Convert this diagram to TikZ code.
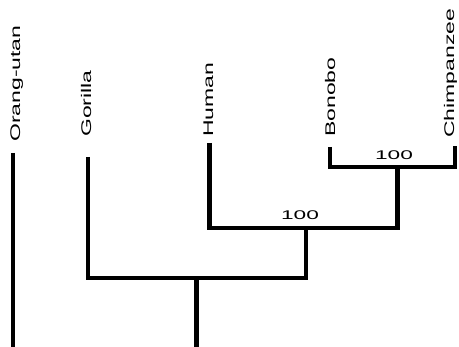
\documentclass[tikz,border=0pt]{standalone}
\usepackage{fontspec}
\setmainfont{Liberation Sans}
\tikzset{
  taxon/.style={rotate=90,anchor=base west,inner sep=0pt,font=\fontsize{14}{16}\selectfont},
  support/.style={inner sep=0pt,font=\fontsize{12.6}{14}\selectfont},
  branch/.style={line width=4.2pt}
}
\newcommand{\longname}[1]{\scalebox{1.64}[1]{#1}}
\newcommand{\wideval}[1]{\scalebox{1.8}[1]{#1}}
\begin{document}
\begin{tikzpicture}[x=1pt,y=-1pt]
\useasboundingbox (0,0) rectangle (459,347);
\clip (0,0) rectangle (459,347);
% taxa
\node[taxon] (orang) at (20,142) {\longname{Orang-utan}};
\node[taxon] (gorilla) at (91,137) {\longname{Gorilla}};
\node[taxon] (human) at (213,137) {\longname{Human}};
\node[taxon] (bonobo) at (335,137) {\longname{Bonobo}};
\node[taxon] (chimp) at (454,138) {\longname{Chimpanzee}};
\coordinate (orangtip) at (13,153);
\coordinate (gorillatip) at (88,157);
\coordinate (humantip) at (209.5,143);
\coordinate (bonobotip) at (330,147);
\coordinate (chimptip) at (455,146);
% internal nodes
\coordinate (bc) at (397.5,167);
\coordinate (hbc) at (306,228);
\coordinate (ghbc) at (196.5,278);
\coordinate (root) at (105,352);
\draw[branch] (bonobotip) |- (bc) -| (chimptip);
\draw[branch] (humantip) |- (hbc) -| (bc);
\draw[branch] (gorillatip) |- (ghbc) -| (hbc);
\draw[branch] (orangtip) |- (root) -| (ghbc);
% bootstrap values
\node[support] (bcval) at (394,155) {\wideval{100}};
\node[support] (hbcval) at (300,215) {\wideval{100}};
\end{tikzpicture}
\end{document}
